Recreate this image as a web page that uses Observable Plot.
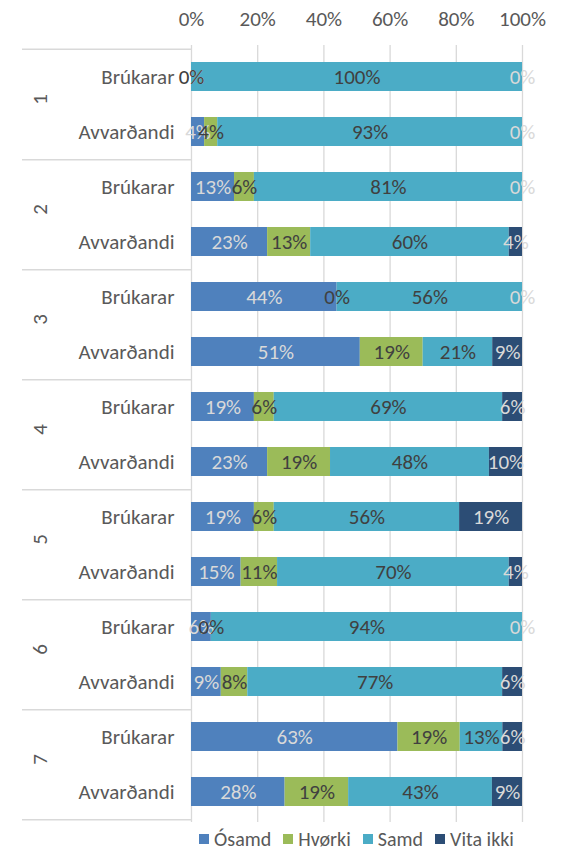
<!DOCTYPE html>
<html><head><meta charset="utf-8">
<script src="https://cdn.jsdelivr.net/npm/d3@7"></script>
<script src="https://cdn.jsdelivr.net/npm/@observablehq/plot@0.6"></script>
<style>
body{margin:0;background:#fff;font-family:Calibri,Carlito,Lato,sans-serif;overflow:hidden;}
#chart svg{display:block;}
#legend{position:absolute;left:0;top:827px;width:562px;box-sizing:border-box;display:flex;justify-content:center;align-items:center;padding:0 40px 0 191px;height:24px;font-size:20px;line-height:22px;color:#595959;}
#legend .item{display:flex;align-items:center;margin:0 6px;}
#legend .sw{width:10px;height:10px;margin-right:5px;}
</style></head><body>
<div id="chart"></div>
<div id="legend"></div>
<script>
const groups = ["1","2","3","4","5","6","7"];
const respondents = ["Brúkarar","Avvarðandi"];
const answers = ["Ósamd","Hvørki","Samd","Vita ikki"];
const colors = ["#4F81BD","#9BBB59","#4BACC6","#2C4D75"];
const xTicks = [0,0.2,0.4,0.6,0.8,1];
// values per group: [Brúkarar, Avvarðandi]
const osamd    = [0,4,   13,23, 44,51, 19,23, 19,15, 6,9,   63,28];
const hvorki   = [0,4,   6,13,  0,19,  6,19,  6,11,  0,8,   19,19];
const samd     = [100,93,81,60, 56,21, 69,48, 56,70, 94,77, 13,43];
const vitaIkki = [0,0,   0,4,   0,9,   6,10,  19,4,  0,6,   6,9];

const series = [osamd, hvorki, samd, vitaIkki];
const keys = groups.flatMap(g => respondents.map(r => g + "|" + r));
const rows = [];
keys.forEach((k, i) => answers.forEach((a, j) => rows.push({key: k, answer: a, value: series[j][i]})));
const light = new Set(["Ósamd","Vita ikki"]);

const W = 562, H = 826, mt = 45, mb = 4;
const step = (H - mt - mb) / keys.length;
const font = "Calibri,Carlito,Lato,sans-serif";
const fs = 21;

const plot = Plot.plot({
  width: W, height: H, marginTop: mt, marginBottom: mb, marginLeft: 191, marginRight: 40,
  style: {fontFamily: font, fontSize: fs + "px", color: "#595959", background: "white"},
  x: {domain: [0, 1], axis: null, label: null},
  y: {domain: keys, paddingInner: 0.48, paddingOuter: 0.24, axis: null, label: null},
  color: {domain: answers, range: colors},
  marks: [
    Plot.ruleX(xTicks, {stroke: "#D9D9D9", strokeWidth: 1.3}),
    Plot.ruleY(groups, {y: g => g + "|Avvarðandi", dy: step / 2, insetLeft: -169, insetRight: 331, stroke: "#D9D9D9", strokeWidth: 1.3}),
    Plot.ruleY([groups[0]], {y: g => g + "|Brúkarar", dy: -step / 2, insetLeft: -169, insetRight: 331, stroke: "#D9D9D9", strokeWidth: 1.3}),
    Plot.barX(rows, Plot.stackX({y: "key", x: "value", fill: "answer", offset: "normalize", order: answers})),
    Plot.text(rows, Plot.stackX({y: "key", x: "value", z: "answer", offset: "normalize", order: answers,
      text: d => light.has(d.answer) ? d.value + "%" : null, fill: "#D9D9D9", fontSize: fs})),
    Plot.text(rows, Plot.stackX({y: "key", x: "value", z: "answer", offset: "normalize", order: answers,
      text: d => light.has(d.answer) ? null : d.value + "%", fill: "#404040", fontSize: fs})),
    Plot.axisX(xTicks, {anchor: "top", label: null, tickSize: 0, tickPadding: 20, tickFormat: d => Math.round(d * 100) + "%", fontSize: fs, fill: "#595959"}),
    Plot.text(keys, {y: d => d, text: d => d.split("|")[1], frameAnchor: "left", dx: -17, textAnchor: "end", fill: "#595959", fontSize: fs}),
    Plot.text(groups, {y: g => g + "|Brúkarar", dy: step / 2, text: g => g, frameAnchor: "left", dx: -151, rotate: -90, fill: "#595959", fontSize: fs})
  ]
});
document.getElementById("chart").appendChild(plot);

const legend = d3.select("#legend");
answers.forEach((a, i) => {
  const it = legend.append("div").attr("class", "item");
  it.append("div").attr("class", "sw").style("background", colors[i]);
  it.append("span").text(a);
});
</script>
</body></html>
